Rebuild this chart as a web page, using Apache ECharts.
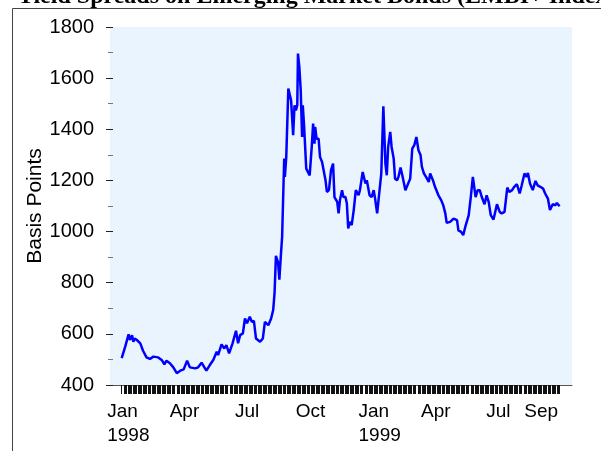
<!DOCTYPE html>
<html><head><meta charset="utf-8">
<script src="https://cdn.jsdelivr.net/npm/echarts@6/dist/echarts.min.js"></script>
<style>html,body{margin:0;padding:0;background:#fff;overflow:hidden}#c{width:601px;height:451px}</style>
</head><body><div id="c"></div>
<script>
const titleText = 'Yield Spreads on Emerging Market Bonds (EMBI+ Index)';
const yAxisName = 'Basis Points';

const dates = [
'1998-01-02','1998-01-07','1998-01-09','1998-01-12','1998-01-14','1998-01-17','1998-01-19','1998-01-21','1998-01-24','1998-01-29',
'1998-02-02','1998-02-07','1998-02-12','1998-02-17','1998-02-24','1998-03-01','1998-03-05','1998-03-08','1998-03-13','1998-03-18',
'1998-03-23','1998-03-28','1998-04-02','1998-04-07','1998-04-11','1998-04-19','1998-04-23','1998-04-28','1998-05-05','1998-05-10',
'1998-05-15','1998-05-20','1998-05-22','1998-05-27','1998-05-31','1998-06-03','1998-06-07','1998-06-12','1998-06-17','1998-06-20',
'1998-06-23','1998-06-27','1998-06-30','1998-07-03','1998-07-07','1998-07-10','1998-07-13','1998-07-16','1998-07-22','1998-07-26',
'1998-07-29','1998-08-03','1998-08-07','1998-08-10','1998-08-12','1998-08-14','1998-08-17','1998-08-19','1998-08-21','1998-08-23',
'1998-08-26','1998-08-27','1998-08-29','1998-09-01','1998-09-05','1998-09-08','1998-09-10','1998-09-12','1998-09-14','1998-09-15',
'1998-09-17','1998-09-19','1998-09-21','1998-09-22','1998-09-24','1998-09-27','1998-09-29','1998-10-02','1998-10-05','1998-10-07',
'1998-10-09','1998-10-10','1998-10-12','1998-10-15','1998-10-17','1998-10-20','1998-10-25','1998-10-27','1998-10-30','1998-11-02',
'1998-11-05','1998-11-07','1998-11-11','1998-11-13','1998-11-15','1998-11-18','1998-11-20','1998-11-23','1998-11-25','1998-11-27',
'1998-11-29','1998-12-02','1998-12-05','1998-12-08','1998-12-12','1998-12-14','1998-12-18','1998-12-22','1998-12-24','1998-12-28',
'1998-12-31','1999-01-03','1999-01-05','1999-01-08','1999-01-10','1999-01-14','1999-01-17','1999-01-20','1999-01-22','1999-01-24',
'1999-01-27','1999-01-29','1999-02-01','1999-02-03','1999-02-06','1999-02-08','1999-02-11','1999-02-14','1999-02-18','1999-02-21',
'1999-02-25','1999-02-28','1999-03-03','1999-03-06','1999-03-09','1999-03-12','1999-03-14','1999-03-17','1999-03-20','1999-03-24',
'1999-03-26','1999-03-30','1999-04-02','1999-04-07','1999-04-11','1999-04-14','1999-04-17','1999-04-19','1999-04-24','1999-04-29',
'1999-05-04','1999-05-06','1999-05-10','1999-05-13','1999-05-16','1999-05-21','1999-05-24','1999-05-27','1999-05-31','1999-06-03',
'1999-06-06','1999-06-09','1999-06-13','1999-06-16','1999-06-19','1999-06-22','1999-06-26','1999-07-01','1999-07-05','1999-07-08',
'1999-07-12','1999-07-16','1999-07-19','1999-07-23','1999-07-26','1999-07-30','1999-08-03','1999-08-06','1999-08-10','1999-08-13',
'1999-08-15','1999-08-18','1999-08-22','1999-08-26','1999-08-29','1999-09-02','1999-09-06','1999-09-09','1999-09-13','1999-09-16',
'1999-09-20','1999-09-24','1999-09-26','1999-09-30'
];
const spreads = [
505,549,556,598,576,595,569,582,576,563,
534,508,502,511,508,498,481,495,485,469,
446,456,461,495,469,465,469,487,456,478,
498,530,517,559,543,556,524,563,612,563,
595,602,660,641,667,647,651,582,569,582,
647,634,660,693,760,905,880,812,900,980,
1286,1214,1292,1559,1513,1377,1494,1474,1494,1696,
1643,1552,1370,1494,1409,1246,1253,1220,1331,1422,
1344,1409,1363,1363,1292,1272,1201,1155,1162,1240,
1266,1135,1116,1071,1123,1162,1135,1135,1110,1012,
1038,1025,1084,1162,1142,1162,1233,1188,1201,1142,
1135,1162,1129,1071,1123,1227,1490,1266,1220,1331,
1390,1331,1286,1207,1201,1214,1250,1214,1162,1181,
1207,1324,1338,1370,1318,1299,1253,1227,1214,1194,
1227,1201,1175,1142,1123,1103,1071,1034,1038,1051,
1045,1005,999,986,1018,1064,1135,1214,1135,1162,
1162,1135,1107,1142,1116,1064,1047,1107,1077,1071,
1077,1172,1155,1162,1175,1185,1149,1181,1227,1214,
1229,1188,1162,1198,1181,1175,1168,1149,1129,1084,
1107,1103,1112,1099
];

const yTickValues = [400, 600, 800, 1000, 1200, 1400, 1600, 1800];
const xLabelDates = ['1998-01-01','1998-04-01','1998-07-01','1998-10-01','1999-01-01','1999-04-01','1999-07-01','1999-09-01'];
const xLabelMonths = ['Jan','Apr','Jul','Oct','Jan','Apr','Jul','Sep'];
const xLabelYears = ['1998','','','','1999','','',''];
const xRange = ['1997-12-16', '1999-10-18'];

function day(s) { const p = s.split('-'); return new Date(+p[0], +p[1] - 1, +p[2]).getTime(); }

// one tick per weekday of the series, as in the original time-series axis
const dayTicks = [];
(function () {
  const d = new Date(day(dates[0]));
  const end = day(dates[dates.length - 1]);
  while (d.getTime() <= end) {
    const w = d.getDay();
    if (w !== 0 && w !== 6) dayTicks.push(d.getTime());
    d.setDate(d.getDate() + 1);
  }
})();

const labelValues = xLabelDates.map(day);
const seriesData = dates.map((s, i) => [day(s), spreads[i]]);
const FONT = '"Liberation Sans", Arial, sans-serif';

const chart = echarts.init(document.getElementById('c'), null, { renderer: 'canvas' });
chart.setOption({
  animation: false,
  backgroundColor: '#ffffff',
  graphic: [
    { type: 'rect', silent: true, z: 0, shape: { x: 12.5, y: 8.5, width: 800, height: 800 },
      style: { fill: null, stroke: '#444', lineWidth: 1 } },
    { type: 'text', silent: true, x: 17, y: -15,
      style: { text: titleText, fill: '#000', font: 'bold 24px "Liberation Serif", "Times New Roman", serif', verticalAlign: 'top' } }
  ],
  grid: { left: 110, right: 29, top: 27, bottom: 66, show: true, backgroundColor: '#EAF4FE', borderWidth: 0 },
  xAxis: {
    type: 'value',
    min: day(xRange[0]), max: day(xRange[1]),
    axisLine: { show: true, lineStyle: { color: '#555', width: 1 } },
    axisTick: { show: true, customValues: dayTicks, length: 9, lineStyle: { color: '#111', width: 1 } },
    minorTick: { show: false },
    splitLine: { show: false },
    axisLabel: {
      customValues: labelValues,
      margin: 15,
      color: '#000', fontFamily: FONT, fontSize: 19, lineHeight: 24,
      hideOverlap: false, showMinLabel: true, showMaxLabel: true,
      formatter: function (v) {
        let i = labelValues.indexOf(v);
        if (i < 0) { let best = 0; labelValues.forEach((t, k) => { if (Math.abs(t - v) < Math.abs(labelValues[best] - v)) best = k; }); i = best; }
        return xLabelYears[i] ? '{m|' + xLabelMonths[i] + '}\n{y|' + xLabelYears[i] + '}' : '{m|' + xLabelMonths[i] + '}';
      },
      rich: {
        m: { fontFamily: FONT, fontSize: 19, color: '#000', lineHeight: 24, padding: [0, 0, 0, 3] },
        y: { fontFamily: FONT, fontSize: 19, color: '#000', lineHeight: 24, width: 10, align: 'left', padding: [0, 0, 0, 3] }
      }
    }
  },
  yAxis: {
    type: 'value', min: yTickValues[0], max: yTickValues[yTickValues.length - 1], interval: 200,
    offset: -3,
    name: yAxisName, nameLocation: 'middle', nameGap: 67, nameMoveOverlap: false,
    nameTextStyle: { fontFamily: FONT, fontSize: 21, color: '#000' },
    axisLine: { show: false },
    axisTick: { show: true, length: 7, lineStyle: { color: '#222', width: 1 } },
    minorTick: { show: true, splitNumber: 2, length: 5, lineStyle: { color: '#777', width: 1 } },
    splitLine: { show: false },
    minorSplitLine: { show: false },
    axisLabel: { margin: 19, color: '#000', fontFamily: FONT, fontSize: 20, formatter: function (v) { return String(v); } }
  },
  series: [{
    type: 'line', data: seriesData, showSymbol: false, symbol: 'none',
    lineStyle: { color: '#0000FF', width: 2.5 }, z: 3
  }]
});
</script></body></html>
